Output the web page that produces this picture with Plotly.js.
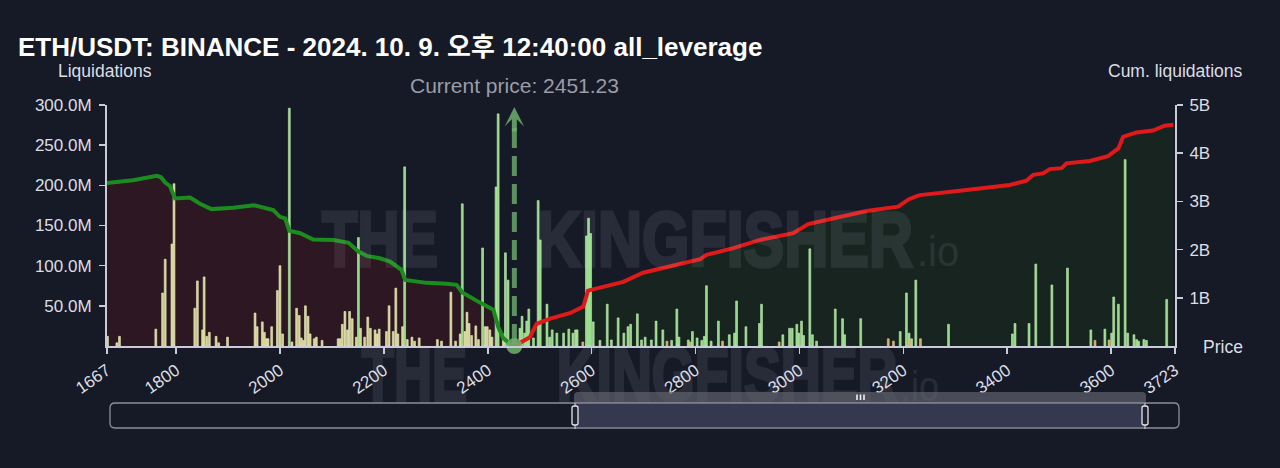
<!DOCTYPE html>
<html>
<head>
<meta charset="utf-8">
<script src="https://cdn.plot.ly/plotly-3.0.1.min.js"></script>
<style>
  html, body { margin: 0; padding: 0; background: #161a26; }
  #chart { width: 1280px; height: 468px; }
</style>
</head>
<body>
<div id="chart"></div>
<script>
// ---------------- DATA ----------------
const titleText = 'ETH/USDT: BINANCE - 2024. 10. 9. 오후 12:40:00 all_leverage';
const currentPrice = 2451.23;

const xTickVals = [1667, 1800, 2000, 2200, 2400, 2600, 2800, 3000, 3200, 3400, 3600, 3723];
const liqTickVals = [50, 100, 150, 200, 250, 300];          // millions
const liqTickText = ['50.0M', '100.0M', '150.0M', '200.0M', '250.0M', '300.0M'];
const cumTickVals = [1, 2, 3, 4, 5];                        // billions
const cumTickText = ['1B', '2B', '3B', '4B', '5B'];

// long-side liquidation bars (khaki), price and value in millions
const khakiPrice = [1668,1686,1691,1761,1774,1779,1792,1796,1836,1841,
  1851,1854,1859,1864,1877,1882,1899,1952,1956,1966,
  1970,1974,1977,1984,1995,2000,2005,2023,2032,2037,
  2041,2045,2049,2054,2058,2066,2070,2081,2112,2116,
  2120,2125,2130,2134,2139,2147,2155,2163,2169,2174,
  2183,2187,2191,2205,2210,2218,2223,2227,2236,2245,
  2254,2259,2268,2303,2311,2329,2338,2347,2356,2360,
  2364,2369,2377,2382,2395,2399,2404,2408,2430];
const khakiValue = [12,4,12,21,66,108,127,202,47,81,
  20,86,12,17,12,4,11,41,24,30,
  17,9,9,24,69,100,15,5,47,38,
  10,7,50,37,15,9,11,7,9,9,
  27,43,20,43,34,11,22,11,36,22,
  20,15,21,18,50,18,72,15,24,8,
  11,6,10,8,6,67,6,15,18,42,
  28,13,25,8,24,24,20,11,15];

// green liquidation bars
const greenPrice = [2018,2151,2240,2351,2390,2416,2420,2434,2439,
  2462,2466,2471,2475,2479,2488,2497,2501,2514,2519,
  2524,2533,2546,2556,2564,2569,2572,2590,2594,2598,
  2603,2616,2630,2638,2651,2662,2670,2675,2688,2696,
  2703,2715,2724,2737,2754,2764,2768,2786,2794,2803,
  2812,2817,2821,2830,2844,2865,2875,2879,2897,2923,
  2927,2968,2981,2986,2995,2999,3004,3008,3020,3025,
  3033,3069,3083,3087,3118,3194,3206,3211,3216,3224,
  3287,3410,3415,3442,3455,3486,3516,3561,3588,3601,
  3605,3614,3627,3632,3644,3649,3653,3663,3668,3707];
const greenValue = [296,135,223,177,122,198,289,116,82,
  22,37,16,31,46,10,181,132,52,11,
  20,16,16,21,16,20,20,137,159,140,
  30,7,52,7.5,35,16,24,27,40,7.5,
  11,7.5,31,20,7,46,11,7.5,18,10,
  7,12,75,6,31,14,16,56,24,28,
  52,14,22,22,27,16,31,13,121,14,
  6,46,34,14,34,18,66,16,9,82,
  27,15,28,28,102,76,97,20,21,16,
  61,52,232,16,14,8,6,8,7,58];

// small tan bars
const tanPrice = [2583, 2745, 2790, 2852, 2961, 3171, 3181, 3212, 3233, 3569, 3596];
const tanValue = [5, 6, 5, 6, 5, 9, 6, 8, 9, 7, 7.5];

// cumulative liquidations (billions)
const longCumPrice = [1667,1717,1763,1771,1779,1788,1798,1827,1846,1868,1910,1950,1987,2000,2010,2018,2039,2064,2103,2132,2151,2167,2192,2212,2234,2241,2282,2301,2321,2340,2351,2385,2411,2420,2430,2446,2451.23];
const longCumValue = [3.38,3.44,3.53,3.50,3.39,3.32,3.06,3.08,2.95,2.84,2.87,2.92,2.82,2.68,2.65,2.39,2.34,2.21,2.20,2.14,1.96,1.87,1.82,1.75,1.58,1.37,1.31,1.31,1.29,1.27,1.11,0.90,0.75,0.40,0.16,0.02,0];
const shortCumPrice = [2451.23,2462,2481,2494,2520,2558,2584,2593,2622,2661,2699,2732,2809,2821,2873,2924,2988,3017,3065,3129,3190,3210,3226,3232,3309,3405,3437,3450,3469,3482,3505,3514,3559,3594,3614,3623,3649,3681,3703,3720];
const shortCumValue = [0,0.06,0.18,0.46,0.57,0.68,0.82,1.15,1.23,1.33,1.52,1.61,1.80,1.89,2.03,2.20,2.34,2.53,2.65,2.80,2.89,3.04,3.11,3.13,3.22,3.34,3.43,3.55,3.58,3.67,3.69,3.79,3.84,3.94,4.10,4.34,4.43,4.47,4.57,4.59];

// ---------------- STYLE / LAYOUT ----------------
const BG = '#161a26';
const FONT = 'Liberation Sans, Arial, Helvetica, "Noto Sans CJK KR", sans-serif';
const AXC = '#c9ccd6';
const TXT = '#dcdee4';
const W = 1280, H = 468;
const PL = 107, PR = 1175, PT = 105, PB = 346;
function px2x(px) { return (px - PL) / (PR - PL); }
function px2y(py) { return (PB - py) / (PB - PT); }
function roundRectPath(x0, y0, x1, y1, r) {
  const P = (x, y) => px2x(x).toFixed(5) + ',' + px2y(y).toFixed(5);
  return 'M' + P(x0 + r, y0) + ' L' + P(x1 - r, y0) + ' Q' + P(x1, y0) + ' ' + P(x1, y0 + r) +
    ' L' + P(x1, y1 - r) + ' Q' + P(x1, y1) + ' ' + P(x1 - r, y1) +
    ' L' + P(x0 + r, y1) + ' Q' + P(x0, y1) + ' ' + P(x0, y1 - r) +
    ' L' + P(x0, y0 + r) + ' Q' + P(x0, y0) + ' ' + P(x0 + r, y0) + ' Z';
}

const barWidth = 3.6;
const traces = [
  { type: 'scatter', x: longCumPrice, y: longCumValue, yaxis: 'y', mode: 'lines',
    line: { width: 0, color: 'rgba(0,0,0,0)' }, fill: 'tozeroy', fillcolor: '#2c1722', hoverinfo: 'skip' },
  { type: 'scatter', x: shortCumPrice, y: shortCumValue, yaxis: 'y', mode: 'lines',
    line: { width: 0, color: 'rgba(0,0,0,0)' }, fill: 'tozeroy', fillcolor: '#17241f', hoverinfo: 'skip' },
  { type: 'bar', x: khakiPrice, y: khakiValue, yaxis: 'y2', width: barWidth,
    marker: { color: '#d2d291', line: { color: '#f0f0c2', width: 0.6 } }, hoverinfo: 'skip' },
  { type: 'bar', x: greenPrice, y: greenValue, yaxis: 'y2', width: barWidth,
    marker: { color: '#94d787', line: { color: '#c4f2b6', width: 0.6 } }, hoverinfo: 'skip' },
  { type: 'bar', x: tanPrice, y: tanValue, yaxis: 'y2', width: barWidth,
    marker: { color: '#d8a862', line: { color: '#e8c890', width: 0.6 } }, hoverinfo: 'skip' },
  { type: 'scatter', x: longCumPrice, y: longCumValue, yaxis: 'y3', mode: 'lines',
    line: { width: 4, color: '#1c8c1e' }, hoverinfo: 'skip' },
  { type: 'scatter', x: shortCumPrice, y: shortCumValue, yaxis: 'y3', mode: 'lines',
    line: { width: 4, color: '#e01a1a' }, hoverinfo: 'skip' },
  { type: 'scatter', x: [currentPrice], y: [0], yaxis: 'y3', mode: 'markers', cliponaxis: false,
    marker: { size: 16, color: 'rgba(110,175,110,0.85)' }, hoverinfo: 'skip' }
];

const shapes = [];
// current price dashed line
shapes.push({ type: 'line', xref: 'x', yref: 'paper', x0: currentPrice, x1: currentPrice,
  y0: px2y(128), y1: 0, line: { color: 'rgba(110,175,110,0.8)', width: 5, dash: '20px,8px' } });
// range-slider decoration
shapes.push({ type: 'path', xref: 'paper', yref: 'paper', path: roundRectPath(574, 392, 1146, 410, 4),
  fillcolor: 'rgba(95,98,110,0.7)', line: { width: 0 } });
shapes.push({ type: 'path', xref: 'paper', yref: 'paper', path: roundRectPath(110, 403, 1179, 428, 5),
  fillcolor: BG, line: { color: '#8c8f9b', width: 1.3 } });
shapes.push({ type: 'rect', xref: 'paper', yref: 'paper', x0: px2x(575), x1: px2x(1145), y0: px2y(404), y1: px2y(427),
  fillcolor: '#343950', line: { width: 0 } });
[575, 1145].forEach(h => {
  shapes.push({ type: 'line', xref: 'paper', yref: 'paper', x0: px2x(h), x1: px2x(h), y0: px2y(403), y1: px2y(429),
    line: { color: '#d8d8de', width: 1 } });
  shapes.push({ type: 'path', xref: 'paper', yref: 'paper', path: roundRectPath(h - 3, 406, h + 3, 425, 2),
    fillcolor: '#20232f', line: { color: '#e4e4ea', width: 1.3 } });
});
[857, 860.5, 864].forEach(g => {
  shapes.push({ type: 'rect', xref: 'paper', yref: 'paper', x0: px2x(g - 0.8), x1: px2x(g + 0.8), y0: px2y(394.5), y1: px2y(400),
    fillcolor: '#f0f0f0', line: { width: 0 } });
});

// watermark as an SVG image (text squeezed with textLength, thickened with a stroke)
const wmSvg = '<svg xmlns="http://www.w3.org/2000/svg" width="640" height="70" viewBox="0 0 640 70" preserveAspectRatio="none">' +
  '<g fill="#dcdeea" stroke="#dcdeea" font-family="Liberation Sans, Arial, sans-serif">' +
  '<text x="2" y="63" font-size="78" font-weight="700" stroke-width="3.5" textLength="116" lengthAdjust="spacingAndGlyphs">THE</text>' +
  '<text x="217" y="63" font-size="78" font-weight="700" stroke-width="3.5" textLength="376" lengthAdjust="spacingAndGlyphs">KINGFISHER</text>' +
  '<text x="597" y="63" font-size="42" font-weight="300" stroke-width="0" textLength="42" lengthAdjust="spacingAndGlyphs">.io</text>' +
  '</g></svg>';
const wmSrc = 'data:image/svg+xml;charset=utf-8,' + encodeURIComponent(wmSvg);
function wmImage(x0, y0, x1, y1) {
  return { source: wmSrc, xref: 'paper', yref: 'paper', x: px2x(x0), y: px2y(y0),
    sizex: px2x(x1) - px2x(x0), sizey: px2y(y0) - px2y(y1), xanchor: 'left', yanchor: 'top',
    sizing: 'stretch', opacity: 0.09, layer: 'above' };
}

const annotations = [
  { text: '', xref: 'x', yref: 'paper', x: currentPrice, y: px2y(107), ax: 0, ay: 26, showarrow: true,
    arrowhead: 3, arrowsize: 0.65, arrowwidth: 5, arrowcolor: 'rgba(110,175,110,0.85)' },
  { text: 'Current price: ' + currentPrice, xref: 'x', yref: 'paper', x: currentPrice, y: px2y(85),
    xanchor: 'center', yanchor: 'middle', showarrow: false, font: { family: FONT, size: 21, color: '#9a9da6' } },
  { text: 'Liquidations', xref: 'paper', yref: 'paper', x: px2x(105), y: px2y(71), xanchor: 'center', yanchor: 'middle',
    showarrow: false, font: { family: FONT, size: 17.5, color: TXT } },
  { text: 'Cum. liquidations', xref: 'paper', yref: 'paper', x: px2x(1175), y: px2y(71), xanchor: 'center', yanchor: 'middle',
    showarrow: false, font: { family: FONT, size: 17.5, color: TXT } },
  { text: 'Price', xref: 'paper', yref: 'paper', x: px2x(1201), y: px2y(347), xanchor: 'left', yanchor: 'middle',
    showarrow: false, font: { family: FONT, size: 17.5, color: TXT } }
];

const axisCommon = {
  showline: true, linecolor: AXC, linewidth: 2, ticks: 'outside', ticklen: 6, tickwidth: 1.5, tickcolor: AXC,
  showgrid: false, zeroline: false, tickfont: { family: FONT, size: 17, color: TXT }, fixedrange: true
};

const layout = {
  width: W, height: H,
  paper_bgcolor: BG, plot_bgcolor: BG,
  margin: { l: PL, r: W - PR, t: PT, b: H - PB, pad: 0 },
  showlegend: false,
  barmode: 'overlay',
  title: { text: '<b>' + titleText + '</b>', x: 18 / W, xanchor: 'left', y: 1 - 47 / H, yanchor: 'middle',
    font: { family: FONT, size: 26, color: '#ffffff' } },
  xaxis: Object.assign({}, axisCommon, { range: [1667, 3723], tickvals: xTickVals, ticktext: xTickVals.map(String),
    tickangle: -35 }),
  yaxis: Object.assign({}, axisCommon, { range: [0, 5], side: 'right', tickvals: cumTickVals, ticktext: cumTickText,
    ticklabelstandoff: 3 }),
  yaxis2: Object.assign({}, axisCommon, { range: [0, 300], side: 'left', overlaying: 'y', tickvals: liqTickVals, ticktext: liqTickText,
    ticklabelstandoff: 4 }),
  yaxis3: { range: [0, 5], overlaying: 'y', visible: false, fixedrange: true },
  images: [wmImage(320, 203, 960, 273), wmImage(360, 338, 940, 408)],
  shapes: shapes,
  annotations: annotations
};

Plotly.newPlot('chart', traces, layout, { displayModeBar: false, staticPlot: true });
</script>
</body>
</html>
